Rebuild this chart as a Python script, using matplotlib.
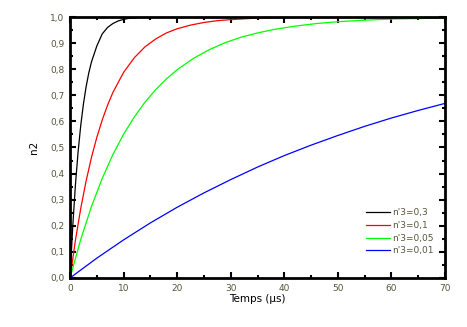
import matplotlib
matplotlib.use('Agg')
import matplotlib.pyplot as plt
from matplotlib.ticker import MultipleLocator, FuncFormatter

# valeurs
t_03 = [0, 0.5, 1, 1.5, 2, 2.5, 3, 3.5, 4, 5, 6, 7, 8, 9, 10, 11, 12.5]
n2_03 = [0, 0.197, 0.356, 0.483, 0.585, 0.667, 0.733, 0.786, 0.828, 0.889,
         0.935, 0.960, 0.975, 0.985, 0.991, 0.995, 0.997]

t_01 = [0, 1, 2, 3, 4, 5, 6, 7, 8, 10, 12, 14, 16, 18, 20, 22.5, 25, 27.5,
        30, 35, 40, 45, 50]
n2_01 = [0, 0.144, 0.267, 0.372, 0.462, 0.539, 0.605, 0.662, 0.711, 0.788,
         0.844, 0.886, 0.916, 0.939, 0.955, 0.969, 0.979, 0.986, 0.990,
         0.996, 0.998, 0.999, 1.0]

t_005 = [0, 2, 4, 6, 8, 10, 12, 14, 16, 18, 20, 23, 26, 29, 32, 35, 38, 42,
         46, 50, 55, 60, 65, 70]
n2_005 = [0, 0.148, 0.274, 0.381, 0.473, 0.551, 0.617, 0.674, 0.722, 0.763,
          0.798, 0.841, 0.875, 0.902, 0.923, 0.939, 0.952, 0.965, 0.975,
          0.982, 0.988, 0.992, 0.994, 0.996]

t_001 = [0, 5, 10, 15, 20, 25, 30, 35, 40, 45, 50, 55, 60, 65, 70]
n2_001 = [0, 0.076, 0.146, 0.211, 0.271, 0.326, 0.377, 0.425, 0.469, 0.509,
          0.546, 0.581, 0.613, 0.642, 0.669]

labels = ["n'3=0,3", "n'3=0,1", "n'3=0,05", "n'3=0,01"]
couleurs = ['black', 'red', '#00ff00', 'blue']

gris = '#55553c'

fig = plt.figure(figsize=(4.67, 3.27), dpi=100)
ax = fig.add_axes([0.150, 0.150, 0.803, 0.798])

series = [(t_03, n2_03), (t_01, n2_01), (t_005, n2_005), (t_001, n2_001)]
for (t, n), lab, c in zip(series, labels, couleurs):
    ax.plot(t, n, color=c, lw=0.9, label=lab)

ax.set_xlim(0, 70)
ax.set_ylim(0, 1)
ax.xaxis.set_major_locator(MultipleLocator(10))
ax.xaxis.set_minor_locator(MultipleLocator(5))
ax.yaxis.set_major_locator(MultipleLocator(0.1))
ax.yaxis.set_minor_locator(MultipleLocator(0.05))
ax.yaxis.set_major_formatter(FuncFormatter(lambda v, p: f'{v:.1f}'.replace('.', ',')))
ax.xaxis.set_major_formatter(FuncFormatter(lambda v, p: f'{v:.0f}'))

ax.tick_params(which='both', direction='in', top=True, right=True,
               labelsize=6.5, labelcolor=gris, width=1.5)
ax.tick_params(which='major', length=4, pad=4)
ax.tick_params(which='minor', length=2)
for s in ax.spines.values():
    s.set_linewidth(2)

ax.set_xlabel('Temps (µs)', fontsize=7.5, labelpad=1)
ax.set_ylabel('n2', fontsize=7.5, labelpad=8)

leg = ax.legend(loc='lower right', bbox_to_anchor=(0.99, 0.055), frameon=False,
                fontsize=6.5, handlelength=2.6, handletextpad=0.2,
                labelspacing=0.42, labelcolor=gris)

fig.savefig('out.png', dpi=100)
